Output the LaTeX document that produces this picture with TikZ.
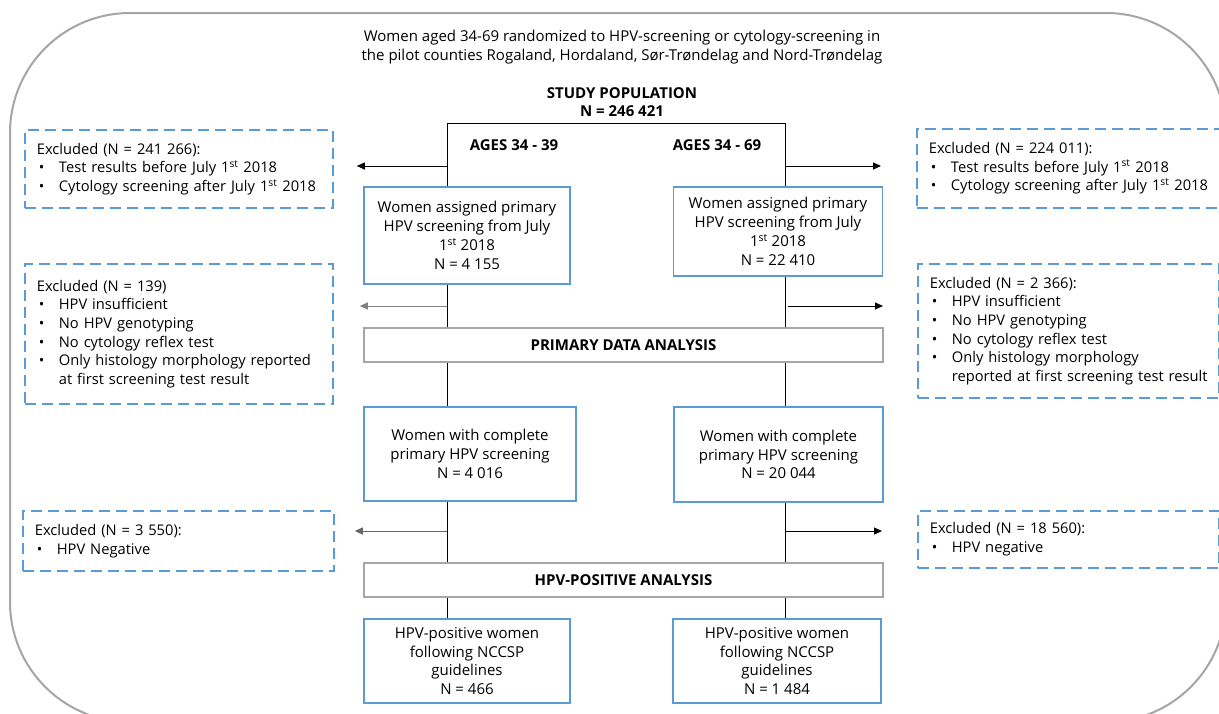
\documentclass[tikz,border=0pt]{standalone}
\usepackage{fontspec}
\setmainfont{Open Sans}
\usetikzlibrary{arrows.meta}
\definecolor{boxblue}{RGB}{91,155,213}
\definecolor{bargray}{RGB}{166,166,166}
\definecolor{framegray}{RGB}{165,165,165}
\newcommand{\bitem}[1]{\hspace*{2pt}\makebox[20pt][l]{\textbullet}\mbox{#1}}
\newcommand{\bcont}[1]{\hspace*{22pt}\mbox{#1}}
\begin{document}
\begin{tikzpicture}[x=1pt, y=-1pt,
  every node/.style={font=\fontsize{15}{18.8}\selectfont},
  flowbox/.style={draw=boxblue, line width=1.8pt, align=center, inner sep=0pt},
  exclbox/.style={draw=boxblue, line width=1.8pt, dash pattern=on 11pt off 6pt, align=left, anchor=north west, inner xsep=12pt, inner ysep=0pt, font=\fontsize{14.7}{18.6}\selectfont},
  bar/.style={draw=bargray, line width=1.8pt, minimum width=519pt, minimum height=34pt, font=\fontsize{15}{18.8}\selectfont\bfseries},
  head/.style={align=center, font=\fontsize{15}{18}\selectfont\bfseries},
  link/.style={line width=1pt},
  outarrow/.style={line width=1pt, -{Triangle[length=8pt,width=7pt]}}]
\useasboundingbox (0,0) rectangle (1219,713);
\draw[framegray, line width=2pt, rounded corners=120pt] (10,13) rectangle (1226,722);

\node[align=center] (ttl) at (622,47) {Women aged 34-69 randomized to HPV-screening or cytology-screening in\\the pilot counties Rogaland, Hordaland, Sør-Trøndelag and Nord-Trøndelag};
\node[head] (pop) at (622,102) {STUDY POPULATION\\N = 246 421};
\node[head] (ageL) at (514,145) {AGES 34 - 39};
\node[head] (ageR) at (717,145) {AGES 34 - 69};

% main flow
\node[flowbox, minimum width=206pt, minimum height=97pt] (asgL) at (467,235.5) {Women assigned primary\\HPV screening from July\\1\textsuperscript{st} 2018\\N = 4 155};
\node[flowbox, minimum width=209pt, minimum height=89pt] (asgR) at (778,231.5) {Women assigned primary\\HPV screening from July\\1\textsuperscript{st} 2018\\N = 22 410};
\node[bar] (pda) at (623.5,345) {PRIMARY DATA ANALYSIS};
\node[flowbox, minimum width=212pt, minimum height=94pt] (cmpL) at (470,454) {Women with complete\\primary HPV screening\\N = 4 016};
\node[flowbox, minimum width=209pt, minimum height=95pt] (cmpR) at (778.5,454.5) {Women with complete\\primary HPV screening\\N = 20 044};
\node[bar] (hpa) at (623.5,580) {HPV-POSITIVE ANALYSIS};
\node[flowbox, minimum width=206pt, minimum height=84pt] (posL) at (467,661) {HPV-positive women\\following NCCSP\\guidelines\\N = 466};
\node[flowbox, minimum width=208pt, minimum height=84pt] (posR) at (777,661) {HPV-positive women\\following NCCSP\\guidelines\\N = 1 484};

% exclusions
\node[exclbox, minimum width=308pt, minimum height=78pt, text width=284pt] (exL1) at (24,129) {Excluded (N = 241 266):\\\bitem{Test results before July 1\textsuperscript{st} 2018}\\\bitem{Cytology screening after July 1\textsuperscript{st} 2018}};
\node[exclbox, minimum width=310pt, minimum height=79pt, text width=286pt] (exR1) at (916,128) {Excluded (N = 224 011):\\\bitem{Test results before July 1\textsuperscript{st} 2018}\\\bitem{Cytology screening after July 1\textsuperscript{st} 2018}};
\node[exclbox, minimum width=308pt, minimum height=140pt, text width=284pt] (exL2) at (24,263) {Excluded (N = 139)\\\bitem{HPV insufficient}\\\bitem{No HPV genotyping}\\\bitem{No cytology reflex test}\\\bitem{Only histology morphology reported}\\\bcont{at first screening test result}};
\node[exclbox, minimum width=301pt, minimum height=134pt, text width=277pt] (exR2) at (917,263) {Excluded (N = 2 366):\\\bitem{HPV insufficient}\\\bitem{No HPV genotyping}\\\bitem{No cytology reflex test}\\\bitem{Only histology morphology}\\\bcont{reported at first screening test result}};
\node[exclbox, minimum width=311pt, minimum height=60pt, text width=287pt] (exL3) at (22,510) {Excluded (N = 3 550):\\\bitem{HPV Negative}};
\node[exclbox, minimum width=301pt, minimum height=57pt, text width=277pt] (exR3) at (917,510) {Excluded (N = 18 560):\\\bitem{HPV negative}};

% connectors
\coordinate (topL) at (447,123);
\coordinate (topR) at (785,123);
\draw[link] (asgL.north -| topL) -- (topL) -- (topR) -- (asgR.north -| topR);
\draw[link] (asgL.south -| topL) -- (pda.north -| topL);
\draw[link] (asgR.south -| topR) -- (pda.north -| topR);
\draw[link] (pda.south -| topL) -- (cmpL.north -| topL);
\draw[link] (pda.south -| topR) -- (cmpR.north -| topR);
\draw[link] (cmpL.south -| topL) -- (hpa.north -| topL);
\draw[link] (cmpR.south -| topR) -- (hpa.north -| topR);
\draw[link] (hpa.south -| topL) -- (posL.north -| topL);
\draw[link] (hpa.south -| topR) -- (posR.north -| topR);

\coordinate (outL1) at (447,166);
\coordinate (outR1) at (785,166);
\coordinate (outL2) at (447,306);
\coordinate (outR2) at (788,306);
\coordinate (outL3) at (447,531);
\coordinate (outR3) at (785,531);
\draw[outarrow, shorten >=23pt] (outL1) -- (outL1 -| exL1.east);
\draw[outarrow, shorten >=35pt] (outR1) -- (outR1 -| exR1.west);
\draw[outarrow, gray, shorten >=26pt] (outL2) -- (outL2 -| exL2.east);
\draw[outarrow, shorten >=34pt] (outR2) -- (outR2 -| exR2.west);
\draw[outarrow, gray!80!black, shorten >=20pt] (outL3) -- (outL3 -| exL3.east);
\draw[outarrow, shorten >=35pt] (outR3) -- (outR3 -| exR3.west);
\end{tikzpicture}
\end{document}
